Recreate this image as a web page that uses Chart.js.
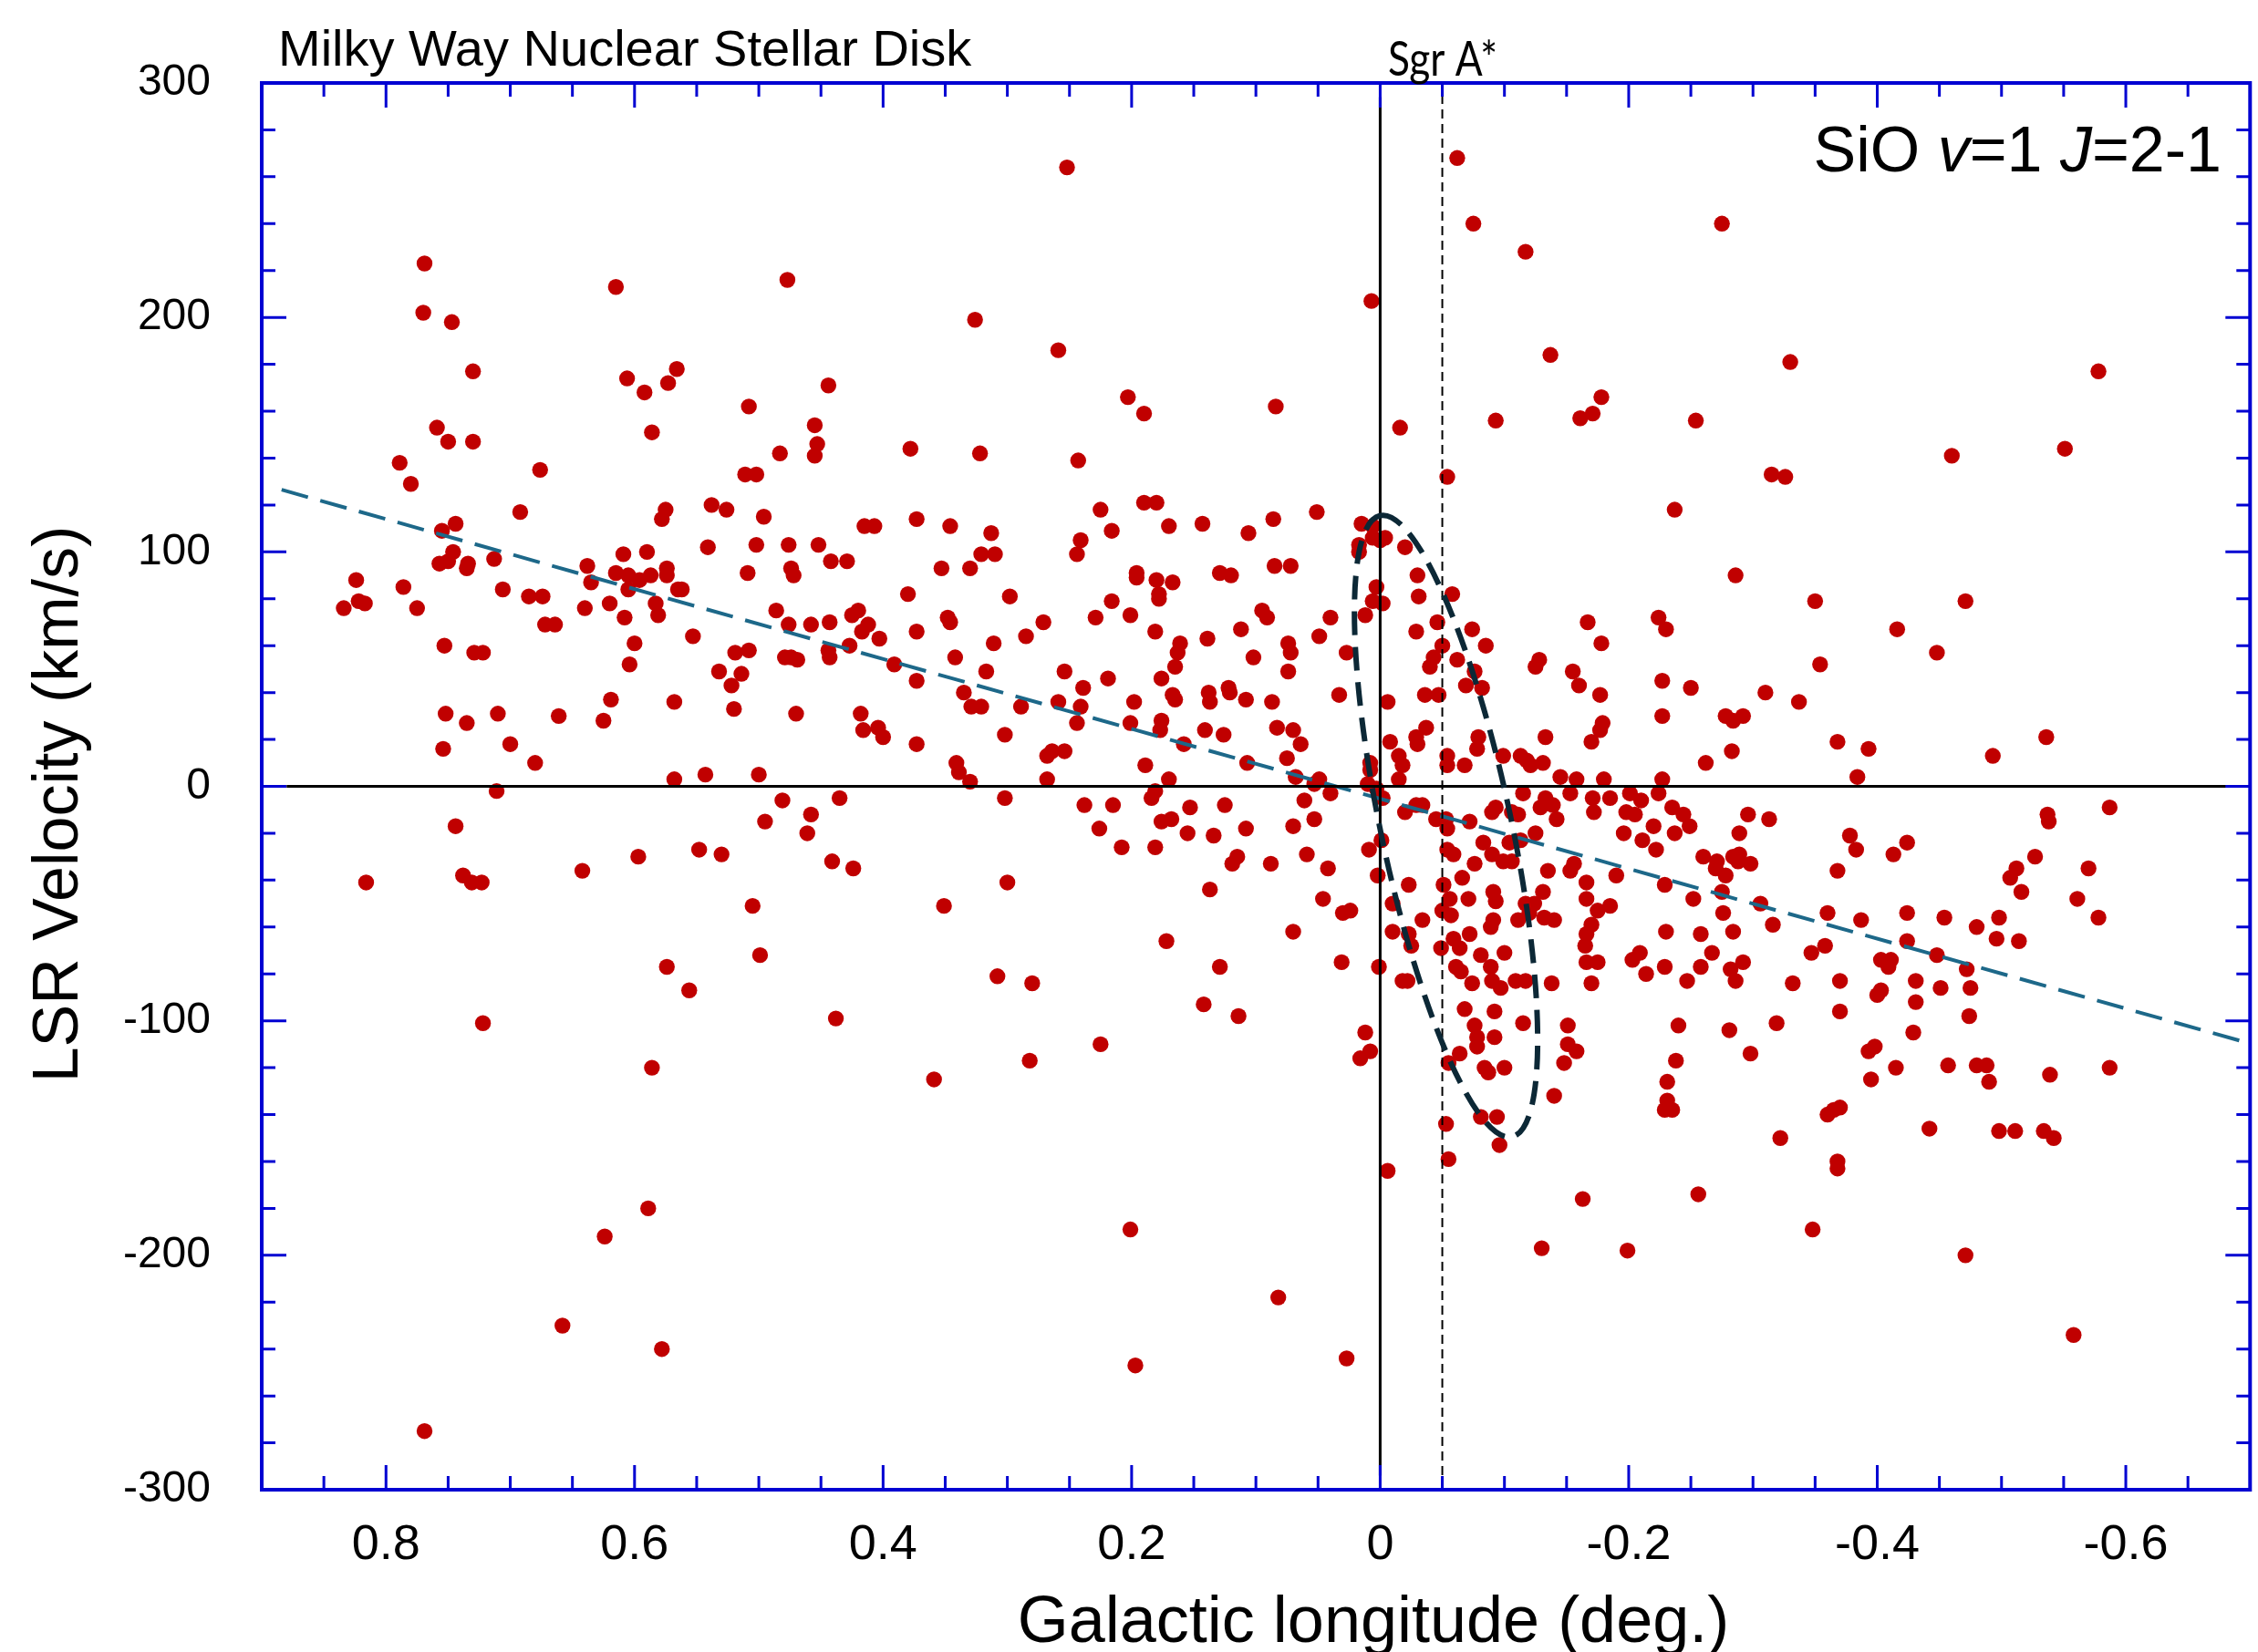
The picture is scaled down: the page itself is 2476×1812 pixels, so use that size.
<!DOCTYPE html>
<html>
<head>
<meta charset="utf-8">
<title>Milky Way Nuclear Stellar Disk - SiO v=1 J=2-1</title>
<script src="https://cdn.jsdelivr.net/npm/chart.js"></script>
<style>
  html, body { margin: 0; padding: 0; background: #fff; }
  #lv { display: block; }
</style>
</head>
<body>
<canvas id="lv" width="2476" height="1812"></canvas>
<script>
// [galactic longitude (deg), LSR velocity (km/s)]
const sioStars = [
  // l > 0.37, v > 0
  [0.769,223],[0.770,202],[0.747,198],[0.730,177],[0.615,213],[0.477,216],[0.606,174],[0.592,168],[0.573,172],[0.566,178],
  [0.586,151],[0.444,171],[0.508,162],[0.759,153],[0.750,147],[0.730,147],[0.789,138],[0.780,129],[0.676,135],[0.455,154],
  [0.453,146],[0.455,141],[0.483,142],[0.511,133],[0.502,133],[0.378,144],[0.692,117],[0.575,118],[0.578,114],[0.538,120],
  [0.526,118],[0.496,115],[0.744,112],[0.755,109],[0.746,100],[0.757,95],[0.750,96],[0.734,95],[0.735,93],[0.713,97],
  [0.824,88],[0.822,79],[0.817,78],[0.834,76],[0.786,85],[0.775,76],[0.706,84],[0.685,81],[0.674,81],[0.672,69],
  [0.664,69],[0.638,94],[0.635,87],[0.640,76],[0.620,78],[0.615,91],[0.609,99],[0.605,90],[0.605,84],[0.608,72],
  [0.596,88],[0.590,100],[0.587,90],[0.574,93],[0.574,90],[0.583,78],[0.581,73],[0.565,84],[0.562,84],[0.600,61],
  [0.604,52],[0.553,64],[0.541,102],[0.509,91],[0.502,103],[0.476,103],[0.474,93],[0.472,90],[0.452,103],[0.442,96],
  [0.429,96],[0.415,111],[0.407,111],[0.373,114],[0.486,75],[0.476,69],[0.458,69],[0.443,70],[0.425,73],[0.420,75],
  [0.412,69],[0.417,66],[0.403,63],[0.380,82],[0.373,66],[0.427,60],[0.444,58],[0.443,55],[0.479,55],[0.474,55],
  [0.469,54],[0.391,52],[0.373,45],[0.508,58],[0.519,57],[0.532,49],[0.514,48],[0.522,43],[0.520,33],[0.470,31],
  [0.418,31],[0.416,24],[0.404,25],[0.400,21],[0.373,18],[0.568,36],[0.543,5],[0.500,5],[0.568,3],[0.619,37],
  [0.625,28],[0.661,30],[0.680,10],[0.700,18],[0.710,31],[0.735,27],[0.752,31],[0.754,16],[0.753,60],[0.729,57],
  [0.722,57],
  // -0.17 < l < 0.37, v > 0
  [0.252,264],[-0.062,268],[-0.075,240],[-0.117,228],[0.007,207],[0.326,199],[0.259,186],[-0.137,184],[0.203,166],[0.190,159],
  [0.084,162],[-0.161,157],[-0.093,156],[-0.016,153],[0.322,142],[0.243,139],[-0.054,132],[0.190,121],[0.180,121],[0.225,118],
  [0.051,117],[0.346,111],[0.313,108],[0.321,99],[0.310,99],[0.330,93],[0.353,93],[0.241,105],[0.244,99],[0.216,109],
  [0.170,111],[0.143,112],[0.106,108],[0.086,114],[0.085,94],[0.072,94],[0.196,91],[0.196,89],[0.180,88],[0.167,87],
  [0.178,82],[0.178,80],[0.129,91],[0.120,90],[0.298,81],[0.216,79],[0.348,72],[0.346,70],[0.271,70],[0.285,64],
  [0.311,61],[0.342,55],[0.317,49],[0.229,72],[0.201,73],[0.181,66],[0.161,61],[0.163,57],[0.165,51],[0.176,46],
  [0.139,63],[0.112,67],[0.102,55],[0.095,75],[0.091,72],[0.074,61],[0.072,57],[0.074,49],[0.049,64],[0.040,72],
  [0.027,57],[0.033,39],[0.015,112],[0.006,111],[0.017,103],[0.017,100],[0.006,106],[-0.004,106],[0.000,105],[-0.020,102],
  [0.003,85],[0.006,79],[-0.002,78],[0.012,73],[-0.030,90],[-0.031,81],[-0.029,66],[-0.046,70],[-0.058,82],[-0.050,60],
  [-0.043,55],[-0.040,51],[-0.062,54],[-0.074,67],[-0.085,60],[-0.076,49],[-0.069,43],[-0.082,42],[-0.036,39],[-0.047,39],
  [-0.006,36],[-0.037,25],[-0.029,21],[-0.030,18],[-0.008,19],[-0.015,13],[-0.018,9],[-0.015,3],[0.008,10],[0.008,7],
  [0.010,1],[-0.054,13],[-0.054,9],[-0.068,9],[-0.079,21],[-0.078,16],[-0.099,13],[-0.113,13],[-0.118,11],[-0.121,9],
  [-0.131,10],[-0.133,21],[-0.145,4],[-0.158,3],[-0.125,51],[-0.128,54],[-0.155,49],[-0.160,43],[-0.167,70],[0.335,40],
  [0.329,34],[0.321,34],[0.289,34],[0.302,22],[0.254,49],[0.259,36],[0.241,34],[0.239,42],[0.244,27],[0.219,46],
  [0.198,36],[0.201,27],[0.176,28],[0.177,24],[0.167,39],[0.165,37],[0.158,18],[0.138,40],[0.137,36],[0.122,42],
  [0.121,40],[0.108,37],[0.087,36],[0.141,24],[0.126,22],[0.083,25],[0.070,24],[0.064,18],[0.075,12],[0.107,10],
  [0.068,4],[0.049,3],[0.053,1],[0.341,10],[0.339,6],[0.330,2],[0.268,13],[0.264,15],[0.254,15],[0.268,3],
  [0.189,9],[0.170,3],
  // l < -0.17, v > 0
  [-0.275,240],[-0.330,181],[-0.578,177],[-0.178,166],[-0.171,159],[-0.254,156],[-0.460,141],[-0.551,144],[-0.315,133],[-0.326,132],
  [-0.237,118],[-0.286,90],[-0.350,79],[-0.471,79],[-0.416,67],[-0.224,72],[-0.230,67],[-0.178,61],[-0.448,57],[-0.354,52],
  [-0.227,45],[-0.250,42],[-0.177,39],[-0.310,40],[-0.337,36],[-0.227,30],[-0.278,30],[-0.284,28],[-0.292,30],[-0.179,27],
  [-0.177,24],[-0.170,19],[-0.368,19],[-0.393,16],[-0.283,15],[-0.262,10],[-0.536,21],[-0.493,13],[-0.384,4],[-0.227,3],
  [-0.180,3],
  // l > 0.37, v < 0
  [0.711,-2],[0.744,-17],[0.816,-41],[0.738,-38],[0.731,-41],[0.723,-41],[0.642,-36],[0.597,-30],[0.548,-27],[0.530,-29],
  [0.481,-6],[0.495,-15],[0.458,-12],[0.461,-20],[0.435,-5],[0.441,-32],[0.424,-35],[0.505,-51],[0.499,-72],[0.574,-77],
  [0.556,-87],[0.722,-101],[0.438,-99],[0.586,-120],[0.589,-180],[0.624,-192],[0.658,-230],[0.578,-240],[0.769,-275],
  // -0.17 < l < 0.37, v < 0
  [0.302,-5],[0.238,-8],[0.215,-8],[0.184,-5],[0.181,-2],[0.153,-9],[0.125,-8],[0.226,-18],[0.208,-26],[0.181,-26],
  [0.176,-15],[0.168,-14],[0.155,-20],[0.134,-21],[0.108,-18],[0.115,-30],[0.119,-33],[0.088,-33],[0.061,-6],[0.040,-3],
  [0.053,-14],[0.070,-17],[0.059,-29],[0.042,-35],[0.137,-44],[0.300,-41],[0.351,-51],[0.046,-48],[0.030,-54],[0.024,-53],
  [0.070,-62],[0.172,-66],[0.129,-77],[0.031,-75],[0.001,-77],[0.308,-81],[0.280,-84],[0.142,-93],[0.114,-98],[0.225,-110],
  [0.282,-117],[0.359,-125],[0.012,-105],[0.008,-113],[0.016,-116],[-0.006,-164],[0.201,-189],[0.082,-218],[0.197,-247],[0.027,-244],
  [0.009,-27],[-0.001,-23],[0.002,-38],[-0.002,-5],[0.003,-1],
  [-0.010,-50],[-0.023,-42],[-0.010,-62],[-0.023,-63],[-0.025,-68],[-0.034,-57],[-0.018,-83],[-0.022,-83],[-0.020,-11],[-0.029,-8],
  [-0.034,-8],[-0.045,-14],[-0.053,-14],[-0.054,-18],[-0.072,-15],[-0.054,-27],[-0.059,-29],[-0.051,-42],[-0.056,-48],[-0.050,-53],
  [-0.057,-55],[-0.066,-39],[-0.071,-48],[-0.076,-33],[-0.083,-24],[-0.090,-29],[-0.099,-32],[-0.106,-32],[-0.090,-11],[-0.093,-9],
  [-0.106,-11],[-0.111,-12],[-0.115,-3],[-0.104,-24],[-0.113,-23],[-0.125,-20],[-0.129,-9],[-0.133,-5],[-0.139,-8],[-0.142,-14],
  [-0.153,-3],[-0.091,-45],[-0.093,-49],[-0.091,-57],[-0.089,-60],[-0.072,-63],[-0.059,-65],[-0.064,-69],[-0.049,-69],[-0.081,-72],
  [-0.100,-71],[-0.089,-77],[-0.061,-77],[-0.065,-79],[-0.074,-84],[-0.090,-83],[-0.097,-86],[-0.109,-83],[-0.117,-83],[-0.111,-57],
  [-0.120,-54],[-0.117,-50],[-0.124,-50],[-0.131,-45],[-0.132,-56],[-0.140,-57],[-0.135,-36],[-0.153,-36],[-0.156,-33],[-0.138,-84],
  [-0.068,-95],[-0.092,-96],[-0.076,-102],[-0.078,-107],[-0.078,-111],[-0.092,-107],[-0.064,-114],[-0.055,-118],[-0.084,-120],[-0.087,-122],
  [-0.100,-120],[-0.115,-101],[-0.151,-102],[-0.151,-110],[-0.158,-113],[-0.148,-118],[-0.140,-132],[-0.081,-141],[-0.094,-141],[-0.096,-153],
  [-0.053,-144],[-0.055,-159],[-0.163,-176],[-0.130,-197],
  // l < -0.17, v < 0
  [-0.171,-5],[-0.172,-11],[-0.185,-5],[-0.201,-3],[-0.210,-6],[-0.224,-3],[-0.198,-11],[-0.205,-12],[-0.235,-9],[-0.244,-12],
  [-0.249,-17],[-0.220,-17],[-0.196,-20],[-0.211,-23],[-0.237,-20],[-0.222,-27],[-0.296,-12],[-0.313,-14],[-0.289,-20],[-0.260,-30],
  [-0.271,-32],[-0.270,-35],[-0.284,-30],[-0.289,-29],[-0.288,-32],[-0.298,-33],[-0.278,-38],[-0.166,-41],[-0.190,-38],[-0.229,-42],
  [-0.166,-48],[-0.252,-48],[-0.275,-45],[-0.175,-53],[-0.185,-51],[-0.170,-59],[-0.166,-63],[-0.165,-68],[-0.276,-54],[-0.306,-50],
  [-0.316,-59],[-0.230,-62],[-0.258,-63],[-0.284,-62],[-0.166,-75],[-0.175,-75],[-0.170,-84],[-0.203,-74],[-0.209,-71],[-0.214,-80],
  [-0.229,-77],[-0.247,-83],[-0.258,-77],[-0.267,-71],[-0.282,-78],[-0.292,-75],[-0.286,-83],[-0.332,-84],[-0.347,-71],[-0.358,-68],
  [-0.360,-54],[-0.387,-57],[-0.368,-36],[-0.378,-21],[-0.383,-27],[-0.413,-29],[-0.424,-24],[-0.424,-54],[-0.424,-66],[-0.454,-56],
  [-0.448,-72],[-0.403,-74],[-0.411,-74],[-0.409,-77],[-0.370,-83],[-0.370,-96],[-0.400,-89],[-0.403,-87],[-0.431,-83],[-0.431,-92],
  [-0.451,-86],[-0.472,-78],[-0.475,-86],[-0.474,-98],[-0.480,-60],[-0.498,-56],[-0.496,-65],[-0.514,-66],[-0.507,-39],[-0.512,-35],
  [-0.516,-45],[-0.527,-30],[-0.537,-12],[-0.538,-15],[-0.570,-35],[-0.561,-48],[-0.578,-56],[-0.587,-9],[-0.319,-101],[-0.298,-114],
  [-0.281,-104],[-0.240,-102],[-0.238,-117],[-0.231,-126],[-0.231,-134],[-0.229,-138],[-0.235,-138],[-0.322,-150],[-0.256,-174],[-0.199,-198],
  [-0.348,-189],[-0.360,-140],[-0.365,-138],[-0.370,-137],[-0.368,-160],[-0.368,-163],[-0.393,-113],[-0.398,-111],[-0.395,-125],[-0.415,-120],
  [-0.429,-105],[-0.442,-146],[-0.457,-119],[-0.480,-119],[-0.488,-119],[-0.490,-126],[-0.498,-147],[-0.511,-147],[-0.534,-147],[-0.542,-150],
  [-0.539,-123],[-0.587,-120],[-0.471,-200],[-0.558,-234]
];

const xTickValues = [0.8, 0.6, 0.4, 0.2, 0, -0.2, -0.4, -0.6];
const xTickLabels = ['0.8', '0.6', '0.4', '0.2', '0', '-0.2', '-0.4', '-0.6'];
const yTickValues = [300, 200, 100, 0, -100, -200, -300];
const yTickLabels = ['300', '200', '100', '0', '-100', '-200', '-300'];

// guide lines, in data units
const rotationFit = [[0.884, 126.5], [-0.7, -109.7]];
const zeroVelocity = [[0.88, 0], [-0.7, 0]];
const zeroLongitude = [[0, -294], [0, 294]];
const sgrAStar = [[-0.05, -300], [-0.05, 300]];

// tilted ellipse: centre, tip of the long axis, half width (deg of l)
const ellipseCenter = [-0.053, -17];
const ellipseTip = [0.0, 115.5];
const ellipseHalfWidth = 0.0524;

const FONT = '"Liberation Sans", Arial, sans-serif';
const AXIS_BLUE = '#0000d2';

const toXY = pts => pts.map(([x, y]) => ({ x, y }));
const guide = (pts, color, width, dash) => ({
    data: toXY(pts),
    showLine: true,
    pointRadius: 0,
    borderColor: color,
    borderWidth: width,
    borderDash: dash,
    order: 1
});

const overlay = {
    id: 'overlay',
    afterDatasetsDraw(chart) {
        const { ctx, chartArea: a, scales: { x, y } } = chart;

        // dashed ellipse round the Sgr A* feature
        const cx = x.getPixelForValue(ellipseCenter[0]), cy = y.getPixelForValue(ellipseCenter[1]);
        const tx = x.getPixelForValue(ellipseTip[0]), ty = y.getPixelForValue(ellipseTip[1]);
        const rx = Math.hypot(tx - cx, ty - cy);
        const ry = Math.abs(x.getPixelForValue(0) - x.getPixelForValue(ellipseHalfWidth));
        ctx.save();
        ctx.beginPath();
        ctx.rect(a.left, a.top, a.width, a.height);
        ctx.clip();
        ctx.strokeStyle = '#0c2836';
        ctx.lineWidth = 6;
        ctx.setLineDash([26, 13]);
        ctx.beginPath();
        ctx.ellipse(cx, cy, rx, ry, Math.atan2(ty - cy, tx - cx), 0, Math.PI * 2);
        ctx.stroke();
        ctx.restore();

        // frame and inward ticks on all four sides
        ctx.save();
        ctx.strokeStyle = AXIS_BLUE;
        ctx.lineWidth = 3;
        ctx.beginPath();
        for (let k = -13; k <= 17; k++) {
            const px = x.getPixelForValue(k * 0.05);
            const len = k % 4 === 0 ? 27 : 15;
            ctx.moveTo(px, a.bottom); ctx.lineTo(px, a.bottom - len);
            ctx.moveTo(px, a.top); ctx.lineTo(px, a.top + len);
        }
        for (let k = -15; k <= 15; k++) {
            const py = y.getPixelForValue(k * 20);
            const len = k % 5 === 0 ? 27 : 15;
            ctx.moveTo(a.left, py); ctx.lineTo(a.left + len, py);
            ctx.moveTo(a.right, py); ctx.lineTo(a.right - len, py);
        }
        ctx.stroke();
        ctx.lineWidth = 4;
        ctx.strokeRect(a.left, a.top, a.width, a.height);
        ctx.restore();
    },
    afterDraw(chart) {
        const { ctx } = chart;
        ctx.save();
        ctx.fillStyle = '#000';
        ctx.textBaseline = 'alphabetic';

        ctx.font = '56px ' + FONT;
        ctx.textAlign = 'left';
        ctx.fillText('Milky Way Nuclear Stellar Disk', 305, 72);

        // SiO v=1 J=2-1, right aligned, v and J in italics
        const parts = [['SiO ', ''], ['v', 'italic '], ['=1 ', ''], ['J', 'italic '], ['=2-1', '']];
        let total = 0;
        parts.forEach(([t, st]) => { ctx.font = st + '70px ' + FONT; total += ctx.measureText(t).width; });
        let px = 2436 - total;
        parts.forEach(([t, st]) => {
            ctx.font = st + '70px ' + FONT;
            ctx.fillText(t, px, 188);
            px += ctx.measureText(t).width;
        });

        // Sgr A* label (narrow)
        ctx.font = '52px Lato, ' + FONT;
        const w = ctx.measureText('Sgr A*').width;
        ctx.save();
        ctx.translate(1522, 83);
        ctx.scale(120 / w, 1);
        ctx.fillText('Sgr A*', 0, 0);
        ctx.restore();

        ctx.font = '72px ' + FONT;
        ctx.textAlign = 'center';
        ctx.fillText('Galactic longitude (deg.)', 1506, 1801);

        ctx.font = '70px ' + FONT;
        ctx.translate(85, 882);
        ctx.rotate(-Math.PI / 2);
        ctx.fillText('LSR Velocity (km/s)', 0, 0);
        ctx.restore();
    }
};

new Chart(document.getElementById('lv'), {
    type: 'scatter',
    data: {
        datasets: [
            { data: toXY(sioStars), backgroundColor: '#c00000', borderWidth: 0, pointRadius: 8.7, order: 2 },
            guide(zeroVelocity, '#000', 3, []),
            guide(zeroLongitude, '#000', 3, []),
            guide(sgrAStar, '#000', 2, [10, 6]),
            guide(rotationFit, '#1d6889', 4, [30, 14])
        ]
    },
    options: {
        responsive: false,
        animation: false,
        devicePixelRatio: 1,
        events: [],
        layout: { padding: { top: 91, right: 6, bottom: 0, left: 0 } },
        plugins: { legend: { display: false }, tooltip: { enabled: false } },
        scales: {
            x: {
                type: 'linear', min: -0.7, max: 0.9, reverse: true,
                grid: { display: false, drawTicks: false },
                border: { display: false },
                afterBuildTicks: s => { s.ticks = xTickValues.map(v => ({ value: v })); },
                afterFit: s => { s.height = 178; },
                ticks: {
                    autoSkip: false, maxRotation: 0, minRotation: 0, padding: 29, color: '#000',
                    font: { family: FONT, size: 54 },
                    callback: (v, i) => xTickLabels[i]
                }
            },
            y: {
                type: 'linear', min: -300, max: 300,
                grid: { display: false, drawTicks: false },
                border: { display: false },
                afterBuildTicks: s => { s.ticks = yTickValues.map(v => ({ value: v })); },
                afterFit: s => { s.width = 287; },
                ticks: {
                    autoSkip: false, padding: 56, color: '#000',
                    font: { family: FONT, size: 48 },
                    callback: (v, i) => yTickLabels[i]
                }
            }
        }
    },
    plugins: [overlay]
});
</script>
</body>
</html>
